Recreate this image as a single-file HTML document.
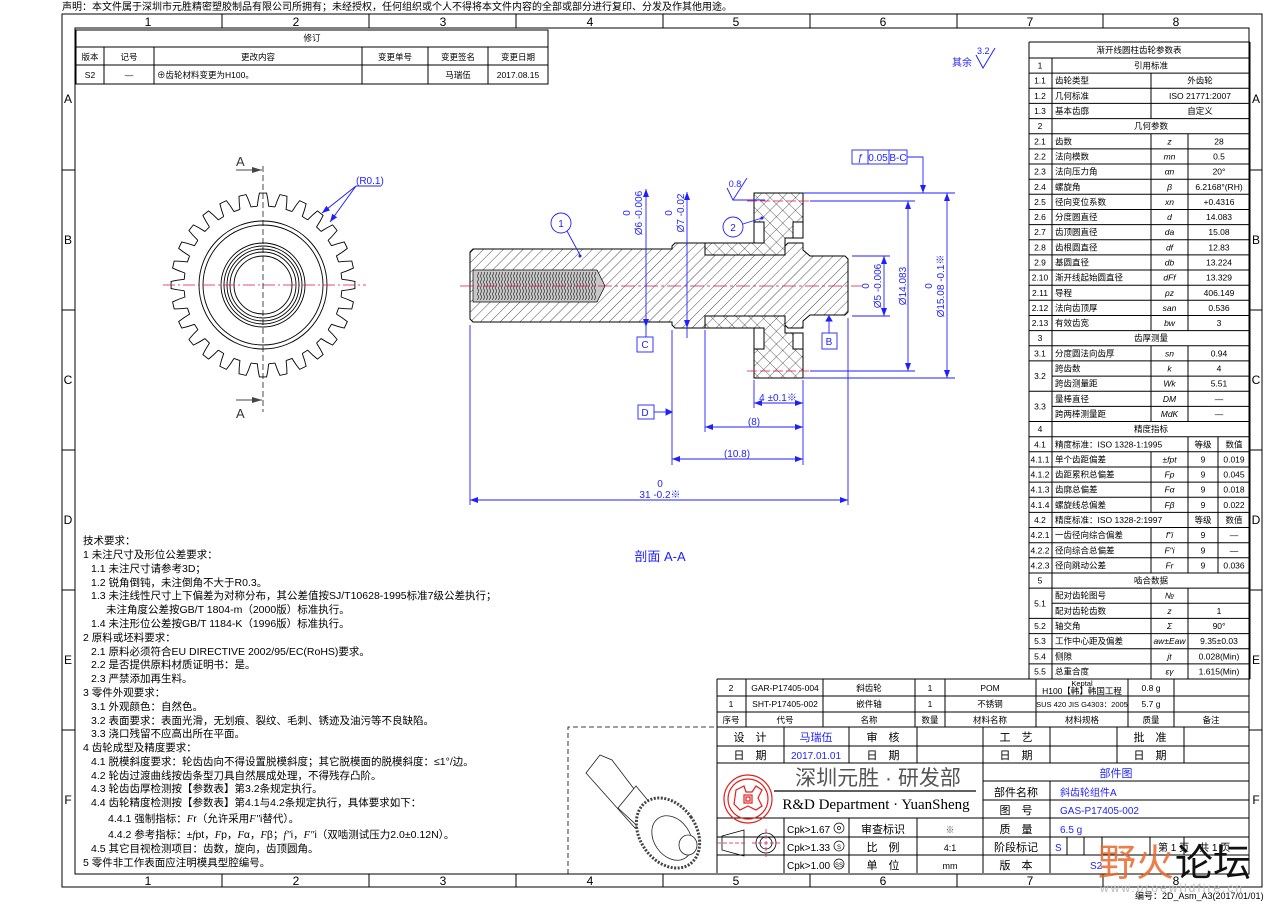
<!DOCTYPE html>
<html><head><meta charset="utf-8">
<style>
html,body{margin:0;padding:0;background:#fff;}
svg{display:block;}
text{font-family:"Liberation Sans","Noto Sans CJK SC",sans-serif;}
.s{font-family:"Liberation Serif","Noto Serif CJK SC",serif;}
.i{font-family:"Liberation Serif","Noto Serif CJK SC",serif;font-style:italic;}
</style></head>
<body>
<svg width="1280" height="905" viewBox="0 0 1280 905" xmlns="http://www.w3.org/2000/svg" xmlns:xlink="http://www.w3.org/1999/xlink">
<defs>
<pattern id="hat" width="7" height="7" patternUnits="userSpaceOnUse" patternTransform="rotate(45)">
<line x1="0" y1="0" x2="0" y2="7" stroke="#000" stroke-width="0.7"/></pattern>
<pattern id="xh" width="9" height="9" patternUnits="userSpaceOnUse" patternTransform="rotate(45)">
<line x1="0" y1="0" x2="0" y2="9" stroke="#000" stroke-width="0.6"/><line x1="0" y1="0" x2="9" y2="0" stroke="#000" stroke-width="0.6"/></pattern>
<pattern id="thr" width="3" height="6" patternUnits="userSpaceOnUse">
<path d="M0,0 Q3,3 0,6" fill="none" stroke="#333" stroke-width="0.7"/></pattern>
<marker id="ar" markerWidth="8" markerHeight="6" refX="8" refY="3" orient="auto" markerUnits="userSpaceOnUse"><path d="M0,0 L8,3 L0,6z" fill="#1f1fff"/></marker>
<marker id="as" markerWidth="8" markerHeight="6" refX="0" refY="3" orient="auto" markerUnits="userSpaceOnUse"><path d="M8,0 L0,3 L8,6z" fill="#1f1fff"/></marker>
<marker id="ak" markerWidth="10" markerHeight="6" refX="10" refY="3" orient="auto" markerUnits="userSpaceOnUse"><path d="M0,0 L10,3 L0,6z" fill="#444"/></marker>
<path id="tooth" d="M-5.67,-78.8 Q-5,-86 -3.6,-91.9 L3.6,-91.9 Q5,-86 5.67,-78.8 L12.01,-78.08" fill="none" stroke="#000" stroke-width="0.9"/>
</defs>

<text x="62" y="10" font-size="10">声明：本文件属于深圳市元胜精密塑胶制品有限公司所拥有；未经授权，任何组织或个人不得将本文件内容的全部或部分进行复印、分发及作其他用途。</text>

<g fill="none" stroke="#000" stroke-width="1">
<rect x="62" y="14" width="1200" height="873"/>
<rect x="75" y="28" width="1174" height="846"/>
<path d="M222,14V28M369,14V28M516,14V28M663,14V28M810,14V28M957,14V28M1103,14V28"/>
<path d="M222,874V887M369,874V887M516,874V887M663,874V887M810,874V887M957,874V887M1103,874V887"/>
<path d="M62,170H75M62,310H75M62,450H75M62,590H75M62,730H75"/>
<path d="M1249,170H1262M1249,310H1262M1249,450H1262M1249,590H1262M1249,730H1262"/>
</g>
<g font-size="12" text-anchor="middle">
<text x="148" y="26">1</text><text x="296" y="26">2</text><text x="443" y="26">3</text><text x="590" y="26">4</text><text x="736" y="26">5</text><text x="883" y="26">6</text><text x="1030" y="26">7</text><text x="1176" y="26">8</text>
<text x="148" y="885">1</text><text x="296" y="885">2</text><text x="443" y="885">3</text><text x="590" y="885">4</text><text x="736" y="885">5</text><text x="883" y="885">6</text><text x="1030" y="885">7</text><text x="1176" y="885">8</text>
<text x="68" y="103">A</text><text x="68" y="244">B</text><text x="68" y="384">C</text><text x="68" y="524">D</text><text x="68" y="664">E</text><text x="68" y="804">F</text>
<text x="1256" y="103">A</text><text x="1256" y="244">B</text><text x="1256" y="384">C</text><text x="1256" y="524">D</text><text x="1256" y="664">E</text><text x="1256" y="804">F</text>
</g>
<text x="1135" y="899" font-size="9">编号：2D_Asm_A3(2017/01/01)</text>

<g fill="none" stroke="#000" stroke-width="1">
<rect x="76" y="30" width="472" height="54"/>
<path d="M76,47H548M76,65H548M104,47V84M154,47V84M362,47V84M428,47V84M488,47V84"/>
</g>
<g font-size="8.5" text-anchor="middle">
<text x="312" y="41">修订</text>
<text x="90" y="60">版本</text><text x="129" y="60">记号</text><text x="258" y="60">更改内容</text><text x="395" y="60">变更单号</text><text x="458" y="60">变更签名</text><text x="518" y="60">变更日期</text>
<text x="90" y="78">S2</text><text x="129" y="78">—</text><text x="458" y="78">马瑞伍</text><text x="518" y="78">2017.08.15</text>
<text x="157" y="78" text-anchor="start">⊕齿轮材料变更为H100。</text>
</g>

<text x="952" y="66" font-size="10" fill="#1f1fff">其余</text>
<path d="M976,55 L983,68 L995,48" fill="none" stroke="#1f1fff"/>
<text x="977" y="54" font-size="9" fill="#1f1fff">3.2</text>

<!-- gear front view -->
<g transform="translate(263 285)">
<use xlink:href="#tooth" href="#tooth" transform="rotate(0)"/><use xlink:href="#tooth" href="#tooth" transform="rotate(12.857)"/><use xlink:href="#tooth" href="#tooth" transform="rotate(25.714)"/><use xlink:href="#tooth" href="#tooth" transform="rotate(38.571)"/>
<use xlink:href="#tooth" href="#tooth" transform="rotate(51.429)"/><use xlink:href="#tooth" href="#tooth" transform="rotate(64.286)"/><use xlink:href="#tooth" href="#tooth" transform="rotate(77.143)"/><use xlink:href="#tooth" href="#tooth" transform="rotate(90)"/>
<use xlink:href="#tooth" href="#tooth" transform="rotate(102.857)"/><use xlink:href="#tooth" href="#tooth" transform="rotate(115.714)"/><use xlink:href="#tooth" href="#tooth" transform="rotate(128.571)"/><use xlink:href="#tooth" href="#tooth" transform="rotate(141.429)"/>
<use xlink:href="#tooth" href="#tooth" transform="rotate(154.286)"/><use xlink:href="#tooth" href="#tooth" transform="rotate(167.143)"/><use xlink:href="#tooth" href="#tooth" transform="rotate(180)"/><use xlink:href="#tooth" href="#tooth" transform="rotate(192.857)"/>
<use xlink:href="#tooth" href="#tooth" transform="rotate(205.714)"/><use xlink:href="#tooth" href="#tooth" transform="rotate(218.571)"/><use xlink:href="#tooth" href="#tooth" transform="rotate(231.429)"/><use xlink:href="#tooth" href="#tooth" transform="rotate(244.286)"/>
<use xlink:href="#tooth" href="#tooth" transform="rotate(257.143)"/><use xlink:href="#tooth" href="#tooth" transform="rotate(270)"/><use xlink:href="#tooth" href="#tooth" transform="rotate(282.857)"/><use xlink:href="#tooth" href="#tooth" transform="rotate(295.714)"/>
<use xlink:href="#tooth" href="#tooth" transform="rotate(308.571)"/><use xlink:href="#tooth" href="#tooth" transform="rotate(321.429)"/><use xlink:href="#tooth" href="#tooth" transform="rotate(334.286)"/><use xlink:href="#tooth" href="#tooth" transform="rotate(347.143)"/>
</g>
<g fill="none" stroke="#000" stroke-width="0.9">
<circle cx="263" cy="285" r="64"/><circle cx="263" cy="285" r="60"/>
<circle cx="263" cy="285" r="42"/><circle cx="263" cy="285" r="39"/><circle cx="263" cy="285" r="36"/><circle cx="263" cy="285" r="33"/><circle cx="263" cy="285" r="29"/>
</g>
<line x1="163" y1="285" x2="366" y2="285" stroke="#e0105a" stroke-width="0.8" stroke-dasharray="12,3,2,3"/>
<line x1="263" y1="166" x2="263" y2="412" stroke="#000" stroke-width="0.7" stroke-dasharray="6,3"/>
<line x1="236" y1="170" x2="262" y2="170" stroke="#444" marker-end="url(#ak)"/>
<line x1="236" y1="400" x2="262" y2="400" stroke="#444" marker-end="url(#ak)"/>
<text x="236" y="166" font-size="13" fill="#333">A</text>
<text x="236" y="418" font-size="13" fill="#333">A</text>
<text x="356" y="184" font-size="10" fill="#1f1fff">(R0.1)</text>
<path d="M356,186H381" stroke="#1f1fff" fill="none"/>
<line x1="356" y1="186" x2="322" y2="213" stroke="#1f1fff" marker-end="url(#ar)"/>
<line x1="356" y1="186" x2="330" y2="222" stroke="#1f1fff" marker-end="url(#ar)"/>

<!-- section view -->
<g stroke="#000" stroke-width="1">
<path d="M470,252L473,249H672V246L675,243H705V255H785V246L788,243H803V250L810,256H845L848,259V312L845,315H810L803,321V328H788L785,325V316H705V328H675L672,325V322H473L470,319Z" fill="url(#hat)"/>
<path d="M754,193H803V222H793V238H785V255H705V243H754Z" fill="url(#xh)"/>
<path d="M754,378H803V349H793V333H785V316H705V328H754Z" fill="url(#xh)"/>
<path d="M754,222H764V243H754ZM754,349H764V328H754Z" fill="#fff"/>
<path d="M793,222H803V238H793ZM793,349H803V333H793Z" fill="#fff"/>
<path d="M473,270H597L605,286L597,302H473Z" fill="#c8c8c8" stroke-width="0.7"/>
</g>
<rect x="476" y="272" width="120" height="28" fill="url(#thr)"/>
<line x1="460" y1="286" x2="862" y2="286" stroke="#e0105a" stroke-width="0.8" stroke-dasharray="14,3,3,3"/>
<line x1="747" y1="201" x2="812" y2="201" stroke="#e0105a" stroke-width="0.8" stroke-dasharray="10,3"/>
<line x1="747" y1="371" x2="812" y2="371" stroke="#e0105a" stroke-width="0.8" stroke-dasharray="10,3"/>

<g stroke="#1f1fff" stroke-width="0.9" fill="none">
<path d="M470,325V505M848,318V505M672,330V465M705,330V432M754,380V408M803,380V465"/>
<line x1="470" y1="500" x2="848" y2="500" marker-start="url(#as)" marker-end="url(#ar)"/>
<line x1="672" y1="459" x2="803" y2="459" marker-start="url(#as)" marker-end="url(#ar)"/>
<line x1="705" y1="427" x2="803" y2="427" marker-start="url(#as)" marker-end="url(#ar)"/>
<line x1="754" y1="403" x2="803" y2="403" marker-start="url(#as)" marker-end="url(#ar)"/>
<line x1="646" y1="189" x2="646" y2="327" marker-start="url(#as)" marker-end="url(#ar)"/>
<line x1="687" y1="192" x2="687" y2="328" marker-start="url(#as)" marker-end="url(#ar)"/>
<path d="M852,256H890M852,316H890M810,201H915M810,371H915M803,193H955M803,378H955"/>
<line x1="884" y1="256" x2="884" y2="316" marker-start="url(#as)" marker-end="url(#ar)"/>
<line x1="908" y1="201" x2="908" y2="371" marker-start="url(#as)" marker-end="url(#ar)"/>
<line x1="947" y1="193" x2="947" y2="378" marker-start="url(#as)" marker-end="url(#ar)"/>
<rect x="852" y="150" width="55" height="14"/>
<path d="M868,150V164M889,150V164M907,157H923V190"/>
<path d="M923,184L923,193" marker-end="url(#ar)"/>
<path d="M727,188L733,200L747,178M733,200H765"/>
<path d="M646,327V337M687,328V338"/>
<rect x="637" y="337" width="16" height="15"/>
<rect x="638" y="405" width="16" height="14"/>
<path d="M654,412H668"/><path d="M666,409L672,412L666,415Z" fill="#1f1fff"/>
<rect x="822" y="333" width="15" height="16"/>
<path d="M829,333V318"/><path d="M826,321L829,316L832,321Z" fill="#1f1fff"/>
<circle cx="561" cy="223" r="10"/><circle cx="733" cy="227" r="10"/>
<path d="M567,231L580,255M743,224L762,218"/>
</g>
<circle cx="580" cy="256" r="1.5" fill="#1f1fff"/><circle cx="762" cy="218" r="1.5" fill="#1f1fff"/>
<g fill="#1f1fff" font-size="10" text-anchor="middle">
<text x="561" y="227">1</text><text x="733" y="231">2</text>
<text x="660" y="487">0</text><text x="660" y="498">31 -0.2※</text>
<text x="737" y="457">(10.8)</text><text x="754" y="425">(8)</text><text x="778" y="401">4 ±0.1※</text>
<text x="645" y="416">D</text><text x="645" y="348">C</text><text x="829" y="345">B</text>
<text x="860" y="161" font-style="italic">ƒ</text><text x="878" y="161">0.05</text><text x="898" y="161">B-C</text>
<text x="735" y="187" font-size="9">0.8</text>
<text x="660" y="561" font-size="13">剖面 A-A</text>
</g>
<g fill="#1f1fff" font-size="10" text-anchor="middle">
<text transform="translate(642,213) rotate(-90)">Ø6 -0.006</text><text transform="translate(630,213) rotate(-90)">0</text>
<text transform="translate(684,213) rotate(-90)">Ø7 -0.02</text><text transform="translate(672,213) rotate(-90)">0</text>
<text transform="translate(881,286) rotate(-90)">Ø5 -0.006</text><text transform="translate(869,286) rotate(-90)">0</text>
<text transform="translate(906,286) rotate(-90)">Ø14.083</text>
<text transform="translate(944,286) rotate(-90)">Ø15.08 -0.1※</text><text transform="translate(932,286) rotate(-90)">0</text>
</g>

<g font-size="10.5">
<text x="83" y="544">技术要求：</text>
<text x="83" y="558">1 未注尺寸及形位公差要求：</text>
<text x="91" y="572">1.1 未注尺寸请参考3D；</text>
<text x="91" y="586">1.2 锐角倒钝，未注倒角不大于R0.3。</text>
<text x="91" y="599">1.3 未注线性尺寸上下偏差为对称分布，其公差值按SJ/T10628-1995标准7级公差执行；</text>
<text x="106" y="613">未注角度公差按GB/T 1804-m（2000版）标准执行。</text>
<text x="91" y="627">1.4 未注形位公差按GB/T 1184-K（1996版）标准执行。</text>
<text x="83" y="641">2 原料或坯料要求：</text>
<text x="91" y="655">2.1 原料必须符合EU DIRECTIVE 2002/95/EC(RoHS)要求。</text>
<text x="91" y="668">2.2 是否提供原料材质证明书：是。</text>
<text x="91" y="682">2.3 严禁添加再生料。</text>
<text x="83" y="696">3 零件外观要求：</text>
<text x="91" y="710">3.1 外观颜色：自然色。</text>
<text x="91" y="724">3.2 表面要求：表面光滑，无划痕、裂纹、毛刺、锈迹及油污等不良缺陷。</text>
<text x="91" y="737">3.3 浇口残留不应高出所在平面。</text>
<text x="83" y="751">4 齿轮成型及精度要求：</text>
<text x="91" y="765">4.1 脱模斜度要求：轮齿齿向不得设置脱模斜度；其它脱模面的脱模斜度：≤1°/边。</text>
<text x="91" y="779">4.2 轮齿过渡曲线按齿条型刀具自然展成处理，不得残存凸阶。</text>
<text x="91" y="792">4.3 轮齿齿厚检测按【参数表】第3.2条规定执行。</text>
<text x="91" y="806">4.4 齿轮精度检测按【参数表】第4.1与4.2条规定执行，具体要求如下：</text>
<text x="108" y="822">4.4.1 强制指标：<tspan class="i">F</tspan>r（允许采用<tspan class="i">F"</tspan>i替代）。</text>
<text x="108" y="838">4.4.2 参考指标：±<tspan class="i">f</tspan>pt，<tspan class="i">F</tspan>p，<tspan class="i">F</tspan>α，<tspan class="i">F</tspan>β；<tspan class="i">f"</tspan>i，<tspan class="i">F"</tspan>i（双啮测试压力2.0±0.12N）。</text>
<text x="91" y="852">4.5 其它目视检测项目：齿数，旋向，齿顶圆角。</text>
<text x="83" y="866">5 零件非工作表面应注明模具型腔编号。</text>
</g>

<path d="M568,874V727H717" fill="none" stroke="#000" stroke-width="0.8" stroke-dasharray="5,3"/>
<g stroke="#222" stroke-width="0.8" fill="#fff">
<path d="M586,773L600,755L612,760L650,810L635,828Z"/>
<path d="M636,786L660,815L645,833L618,808Z"/>
<ellipse cx="668" cy="833" rx="28" ry="38" transform="rotate(-35 668 833)" stroke-width="3" stroke="#444" stroke-dasharray="2,1.5"/>
<ellipse cx="672" cy="838" rx="18" ry="24" transform="rotate(-35 672 838)"/>
<ellipse cx="688" cy="845" rx="9" ry="10"/>
</g>

<!-- parameter table -->
<g fill="none" stroke="#000" stroke-width="1">
<path d="M1029,42H1250M1029,42V679M1250,42V679M1052,58V679
M1029,58H1250M1029,73.1H1250M1029,88.3H1250M1029,103.4H1250M1029,118.6H1250M1029,133.7H1250M1029,148.9H1250M1029,164H1250M1029,179.2H1250M1029,194.3H1250M1029,209.5H1250M1029,224.6H1250M1029,239.8H1250M1029,254.9H1250M1029,270H1250M1029,285.2H1250M1029,300.3H1250M1029,315.5H1250M1029,330.6H1250M1029,345.8H1250M1029,360.9H1250M1052,376.1H1250M1029,391.2H1250M1052,406.4H1250M1029,421.5H1250M1029,436.7H1250M1029,451.8H1250M1029,467H1250M1029,482.1H1250M1029,497.2H1250M1029,512.4H1250M1029,527.5H1250M1029,542.7H1250M1029,557.8H1250M1029,573H1250M1029,588.1H1250M1052,603.3H1250M1029,618.4H1250M1029,633.6H1250M1029,648.7H1250M1029,663.9H1250M1029,679H1250
M1151,73.1V118.6M1151,133.7V330.6M1151,345.8V421.5M1151,451.8V512.4M1151,527.5V573M1151,588.1V679
M1188,133.7V330.6M1188,345.8V421.5M1188,436.7V573M1188,588.1V679M1218,436.7V573"/>
</g>
<g font-size="8.5">
<g text-anchor="middle">
<text x="1139" y="53">渐开线圆柱齿轮参数表</text>
<text x="1040" y="68.6">1</text><text x="1151" y="68.6">引用标准</text>
<text x="1040" y="83.7">1.1</text><text x="1040" y="98.9">1.2</text><text x="1040" y="114">1.3</text>
<text x="1200" y="83.7">外齿轮</text><text x="1200" y="98.9">ISO  21771:2007</text><text x="1200" y="114">自定义</text>
<text x="1040" y="129.2">2</text><text x="1151" y="129.2">几何参数</text>
<text x="1040" y="144.3">2.1</text><text x="1040" y="159.5">2.2</text><text x="1040" y="174.6">2.3</text><text x="1040" y="189.8">2.4</text><text x="1040" y="204.9">2.5</text><text x="1040" y="220.1">2.6</text><text x="1040" y="235.2">2.7</text><text x="1040" y="250.4">2.8</text><text x="1040" y="265.5">2.9</text><text x="1040" y="280.6">2.10</text><text x="1040" y="295.8">2.11</text><text x="1040" y="310.9">2.12</text><text x="1040" y="326.1">2.13</text>
<text x="1040" y="341.2">3</text><text x="1151" y="341.2">齿厚测量</text>
<text x="1040" y="356.4">3.1</text><text x="1040" y="379">3.2</text><text x="1040" y="409.4">3.3</text>
<text x="1040" y="432.1">4</text><text x="1151" y="432.1">精度指标</text>
<text x="1040" y="447.3">4.1</text><text x="1040" y="462.4">4.1.1</text><text x="1040" y="477.6">4.1.2</text><text x="1040" y="492.7">4.1.3</text><text x="1040" y="507.8">4.1.4</text>
<text x="1040" y="523">4.2</text><text x="1040" y="538.1">4.2.1</text><text x="1040" y="553.3">4.2.2</text><text x="1040" y="568.4">4.2.3</text>
<text x="1040" y="583.6">5</text><text x="1151" y="583.6">啮合数据</text>
<text x="1040" y="606.3">5.1</text><text x="1040" y="629">5.2</text><text x="1040" y="644.2">5.3</text><text x="1040" y="659.3">5.4</text><text x="1040" y="674.5">5.5</text>
<text x="1203" y="447.3">等级</text><text x="1234" y="447.3">数值</text>
<text x="1203" y="523">等级</text><text x="1234" y="523">数值</text>
</g>
<g>
<text x="1055" y="83.7">齿轮类型</text><text x="1055" y="98.9">几何标准</text><text x="1055" y="114">基本齿廓</text>
<text x="1055" y="144.3">齿数</text><text x="1055" y="159.5">法向模数</text><text x="1055" y="174.6">法向压力角</text><text x="1055" y="189.8">螺旋角</text><text x="1055" y="204.9">径向变位系数</text><text x="1055" y="220.1">分度圆直径</text><text x="1055" y="235.2">齿顶圆直径</text><text x="1055" y="250.4">齿根圆直径</text><text x="1055" y="265.5">基圆直径</text><text x="1055" y="280.6">渐开线起始圆直径</text><text x="1055" y="295.8">导程</text><text x="1055" y="310.9">法向齿顶厚</text><text x="1055" y="326.1">有效齿宽</text>
<text x="1055" y="356.4">分度圆法向齿厚</text><text x="1055" y="371.5">跨齿数</text><text x="1055" y="386.7">跨齿测量距</text><text x="1055" y="401.8">量棒直径</text><text x="1055" y="417">跨两棒测量距</text>
<text x="1055" y="447.3">精度标准：ISO  1328-1:1995</text><text x="1055" y="462.4">单个齿距偏差</text><text x="1055" y="477.6">齿距累积总偏差</text><text x="1055" y="492.7">齿廓总偏差</text><text x="1055" y="507.8">螺旋线总偏差</text>
<text x="1055" y="523">精度标准：ISO  1328-2:1997</text><text x="1055" y="538.1">一齿径向综合偏差</text><text x="1055" y="553.3">径向综合总偏差</text><text x="1055" y="568.4">径向跳动公差</text>
<text x="1055" y="598.7">配对齿轮图号</text><text x="1055" y="613.9">配对齿轮齿数</text><text x="1055" y="629">轴交角</text><text x="1055" y="644.2">工作中心距及偏差</text><text x="1055" y="659.3">侧隙</text><text x="1055" y="674.5">总重合度</text>
</g>
<g text-anchor="middle" class="i">
<text x="1169.5" y="144.3">z</text><text x="1169.5" y="159.5">mn</text><text x="1169.5" y="174.6">αn</text><text x="1169.5" y="189.8">β</text><text x="1169.5" y="204.9">xn</text><text x="1169.5" y="220.1">d</text><text x="1169.5" y="235.2">da</text><text x="1169.5" y="250.4">df</text><text x="1169.5" y="265.5">db</text><text x="1169.5" y="280.6">dFf</text><text x="1169.5" y="295.8">pz</text><text x="1169.5" y="310.9">san</text><text x="1169.5" y="326.1">bw</text>
<text x="1169.5" y="356.4">sn</text><text x="1169.5" y="371.5">k</text><text x="1169.5" y="386.7">Wk</text><text x="1169.5" y="401.8">DM</text><text x="1169.5" y="417">MdK</text>
<text x="1169.5" y="462.4">±fpt</text><text x="1169.5" y="477.6">Fp</text><text x="1169.5" y="492.7">Fα</text><text x="1169.5" y="507.8">Fβ</text>
<text x="1169.5" y="538.1">f"i</text><text x="1169.5" y="553.3">F"i</text><text x="1169.5" y="568.4">Fr</text>
<text x="1169.5" y="598.7">№</text><text x="1169.5" y="613.9">z</text><text x="1169.5" y="629">Σ</text><text x="1169.5" y="644.2">aw±Eaw</text><text x="1169.5" y="659.3">jt</text><text x="1169.5" y="674.5">εγ</text>
</g>
<g text-anchor="middle" class="s">
<text x="1219" y="144.3">28</text><text x="1219" y="159.5">0.5</text><text x="1219" y="174.6">20°</text><text x="1219" y="189.8">6.2168°(RH)</text><text x="1219" y="204.9">+0.4316</text><text x="1219" y="220.1">14.083</text><text x="1219" y="235.2">15.08</text><text x="1219" y="250.4">12.83</text><text x="1219" y="265.5">13.224</text><text x="1219" y="280.6">13.329</text><text x="1219" y="295.8">406.149</text><text x="1219" y="310.9">0.536</text><text x="1219" y="326.1">3</text>
<text x="1219" y="356.4">0.94</text><text x="1219" y="371.5">4</text><text x="1219" y="386.7">5.51</text><text x="1219" y="401.8">—</text><text x="1219" y="417">—</text>
<text x="1203" y="462.4">9</text><text x="1234" y="462.4">0.019</text><text x="1203" y="477.6">9</text><text x="1234" y="477.6">0.045</text><text x="1203" y="492.7">9</text><text x="1234" y="492.7">0.018</text><text x="1203" y="507.8">9</text><text x="1234" y="507.8">0.022</text>
<text x="1203" y="538.1">9</text><text x="1234" y="538.1">—</text><text x="1203" y="553.3">9</text><text x="1234" y="553.3">—</text><text x="1203" y="568.4">9</text><text x="1234" y="568.4">0.036</text>
<text x="1219" y="613.9">1</text><text x="1219" y="629">90°</text><text x="1219" y="644.2">9.35±0.03</text><text x="1219" y="659.3">0.028(Min)</text><text x="1219" y="674.5">1.615(Min)</text>
</g>
</g>

<g fill="none" stroke="#000" stroke-width="1">
<path d="M717,679H1249M717,696H1249M717,712H1249M717,727H1249"/>
<path d="M717,679V873M746,679V727M823,679V727M915,679V727M945,679V727M1036,679V727M1128,679V727M1174,679V727"/>
<path d="M717,746H1249M717,763H1249M983,781H1249M983,800H1249M983,818H1249M717,837H1249M717,855H983M983,855H1249M717,818H983"/>
<path d="M784,727V763M849,727V763M917,727V763M983,727V873M1050,727V763M1117,727V763M1184,727V763"/>
<path d="M1050,781V873M784,818V873M849,818V873M917,818V873"/>
<path d="M1067,837V855M1084,837V855M1102,837V855M1150,837V855M1184,837V855"/>
<path d="M774,791H976" stroke-width="1.2"/>
</g>
<g font-size="8.5" text-anchor="middle">
<text x="731" y="691">2</text><text x="785" y="691">GAR-P17405-004</text><text x="869" y="691">斜齿轮</text><text x="930" y="691">1</text><text x="990" y="691">POM</text>
<text x="1082" y="686" font-size="7.5">Keptal</text><text x="1082" y="694">H100【韩】韩国工程</text><text x="1151" y="691">0.8 g</text>
<text x="731" y="707">1</text><text x="785" y="707">SHT-P17405-002</text><text x="869" y="707">嵌件轴</text><text x="930" y="707">1</text><text x="990" y="707">不锈钢</text>
<text x="1082" y="707" font-size="7.5">SUS 420 JIS G4303：2005</text><text x="1151" y="707">5.7 g</text>
<text x="731" y="723">序号</text><text x="785" y="723">代号</text><text x="869" y="723">名称</text><text x="930" y="723">数量</text><text x="990" y="723">材料名称</text><text x="1082" y="723">材料规格</text><text x="1151" y="723">质量</text><text x="1211" y="723">备注</text>
</g>
<g font-size="11" text-anchor="middle">
<text x="750" y="741">设　计</text><text x="816" y="741" fill="#1f1fff">马瑞伍</text><text x="883" y="741">审　核</text><text x="1016" y="741">工　艺</text><text x="1150" y="741">批　准</text>
<text x="750" y="759">日　期</text><text x="816" y="759" fill="#1f1fff" font-size="10">2017.01.01</text><text x="883" y="759">日　期</text><text x="1016" y="759">日　期</text><text x="1150" y="759">日　期</text>
<text x="1116" y="777" fill="#1f1fff">部件图</text>
<text x="1016" y="796">部件名称</text><text x="1016" y="814">图　号</text><text x="1016" y="833">质　量</text><text x="1016" y="851">阶段标记</text><text x="1016" y="869">版　本</text>
<text x="883" y="833">审查标识</text><text x="883" y="851">比　例</text><text x="883" y="869">单　位</text>
<text x="950" y="833" font-size="9" fill="#555">※</text><text x="950" y="851" font-size="9">4:1</text><text x="950" y="869" font-size="9">mm</text>
</g>
<g font-size="10">
<text x="1060" y="796" fill="#1f1fff">斜齿轮组件A</text>
<text x="1060" y="814" fill="#1f1fff">GAS-P17405-002</text>
<text x="1060" y="833" fill="#1f1fff">6.5 g</text>
<text x="1055" y="851" fill="#1f1fff">S</text>
<text x="1090" y="869" fill="#1f1fff">S2</text>
<text x="1158" y="851">第 1 页　共 1 页</text>
<text x="787" y="833">Cpk&gt;1.67</text><text x="787" y="851">Cpk&gt;1.33</text><text x="787" y="869">Cpk&gt;1.00</text>
</g>
<g fill="none" stroke="#000" stroke-width="0.7">
<circle cx="839" cy="828" r="5"/><circle cx="839" cy="828" r="1.5"/>
<circle cx="839" cy="846" r="5"/><circle cx="839" cy="864" r="5"/>
</g>
<text x="839" y="849" font-size="6" text-anchor="middle">S</text><text x="839" y="867" font-size="6" text-anchor="middle">SS</text>
<g fill="none" stroke="#000" stroke-width="0.8">
<path d="M722,836L744,830V856L722,850Z"/>
<circle cx="766" cy="843" r="10"/><circle cx="766" cy="843" r="6"/>
</g>
<path d="M717,843H746M752,843H780M766,829V857" stroke="#e0105a" stroke-width="0.8" stroke-dasharray="4,2"/>
<g fill="none" stroke="#e02020" stroke-width="1.2">
<circle cx="748" cy="799" r="24"/><circle cx="748" cy="799" r="20"/>
<path d="M736,790L744,786L746,792L752,792L756,786L762,790L758,798L762,806L756,810L748,806L740,810L734,804Z"/>
<rect x="744" y="795" width="8" height="8"/><rect x="746" y="797" width="4" height="4"/>
</g>
<text x="878" y="785" font-size="21" text-anchor="middle" fill="#555" font-family="Noto Serif CJK SC, serif">深圳元胜 · 研发部</text>
<text x="876" y="809" font-size="15" text-anchor="middle" class="s">R&amp;D Department · YuanSheng</text>

<text x="1098" y="876" font-size="38" fill="#e8682a" opacity="0.85">野火</text>
<text x="1175" y="876" font-size="38" fill="#111">论坛</text>
<text x="1100" y="892" font-size="12" fill="#bbb" letter-spacing="2">www.proewildfire.cn</text>
</svg>
</body></html>
